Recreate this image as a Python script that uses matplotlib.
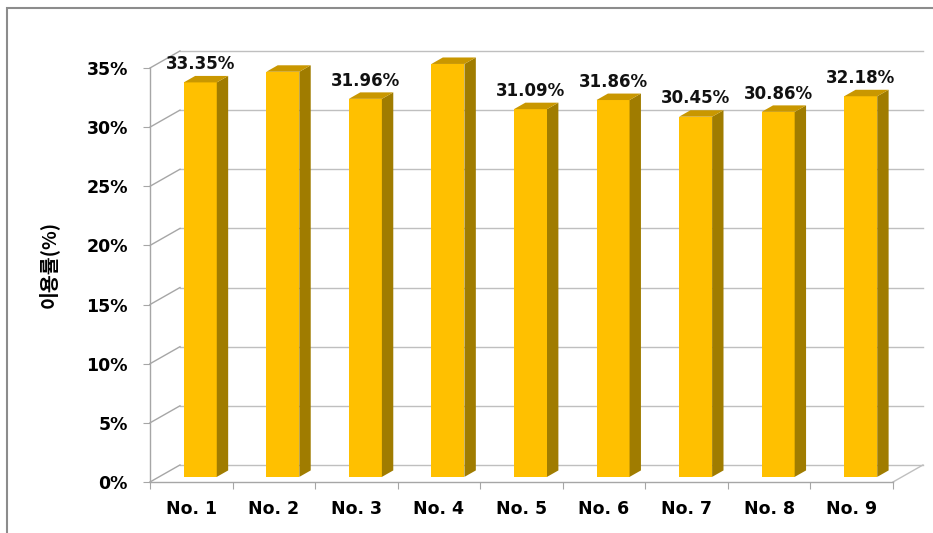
import matplotlib
matplotlib.use("Agg")
import matplotlib.pyplot as plt
from matplotlib.patches import Polygon, Rectangle

# data
categories = ["No. 1", "No. 2", "No. 3", "No. 4", "No. 5", "No. 6", "No. 7", "No. 8", "No. 9"]
values = [33.35, 34.25, 31.96, 34.91, 31.09, 31.86, 30.45, 30.86, 32.18]
yticks = [0, 5, 10, 15, 20, 25, 30, 35]
ylabel = "이용률(%)"

# fake 3d depth (in data units)
DX = 0.363
DY = 1.44
F0, F1 = 0.30, 0.68   # bar front / back depth fraction
BW = 0.40

FRONT = "#FFC000"
SIDE = "#A07C00"
TOP = "#C99700"
GRID = "#BFBFBF"
AX = "#A6A6A6"

fig = plt.figure(figsize=(9.33, 5.33), dpi=100)
ax = fig.add_axes([150 / 933, 51 / 533, 743 / 933, 414 / 533])
ax.set_xlim(0, len(categories))
ax.set_ylim(0, 35)

# outer frame
fig.patches.append(Rectangle((7 / 933, -0.1), 2, 1.1 - 8 / 533, transform=fig.transFigure,
                             fill=False, ec="#8C8C8C", lw=1.5))

n = len(categories)
# back wall grid + left wall diagonals
for v in yticks:
    ax.plot([DX, n + DX], [v + DY, v + DY], color=GRID, lw=1, clip_on=False, zorder=1)
    ax.plot([0, DX], [v, v + DY], color=AX, lw=1, clip_on=False, zorder=1)
# floor right edge
ax.plot([n, n + DX], [0, DY], color=GRID, lw=1, clip_on=False, zorder=1)

# bars
for i, v in enumerate(values):
    x0 = i + 0.5 - BW / 2 + F0 * DX
    x1 = x0 + BW
    y0 = F0 * DY
    y1 = v + F0 * DY
    ddx = (F1 - F0) * DX
    ddy = (F1 - F0) * DY
    ax.add_patch(Polygon([(x0, y0), (x1, y0), (x1, y1), (x0, y1)], closed=True,
                         fc=FRONT, ec="none", clip_on=False, zorder=3))
    ax.add_patch(Polygon([(x1, y0), (x1 + ddx, y0 + ddy), (x1 + ddx, y1 + ddy), (x1, y1)],
                         closed=True, fc=SIDE, ec="none", clip_on=False, zorder=3))
    ax.add_patch(Polygon([(x0, y1), (x1, y1), (x1 + ddx, y1 + ddy), (x0 + ddx, y1 + ddy)],
                         closed=True, fc=TOP, ec="none", clip_on=False, zorder=3))
    ax.annotate(f"{v:.2f}%", xy=(x0 + BW / 2, y1 + ddy), xytext=(0, 2),
                textcoords="offset points", ha="center", va="bottom",
                fontsize=12, fontweight="bold", color="#111111", zorder=4)

# axes styling
for s in ["top", "right"]:
    ax.spines[s].set_visible(False)
for s in ["left", "bottom"]:
    ax.spines[s].set_color(AX)
    ax.spines[s].set_linewidth(1)
ax.set_yticks(yticks)
ax.set_yticklabels([f"{t}%" for t in yticks], fontsize=12.5, fontweight="bold")
ax.tick_params(axis="y", length=5, color=AX, pad=11)
ax.set_xticks(range(n + 1))
ax.set_xticklabels([])
ax.tick_params(axis="x", which="major", length=5, color=AX)
ax.set_xticks([i + 0.5 for i in range(n)], minor=True)
ax.set_xticklabels(categories, minor=True, fontsize=12.5, fontweight="bold")
ax.tick_params(axis="x", which="minor", length=0, pad=13)

ax.set_ylabel(ylabel, fontsize=14, fontweight="bold",
              family=["Noto Sans CJK KR", "DejaVu Sans"])
ax.yaxis.set_label_coords(-0.122, 0.525)

fig.savefig("out.png", dpi=100)
